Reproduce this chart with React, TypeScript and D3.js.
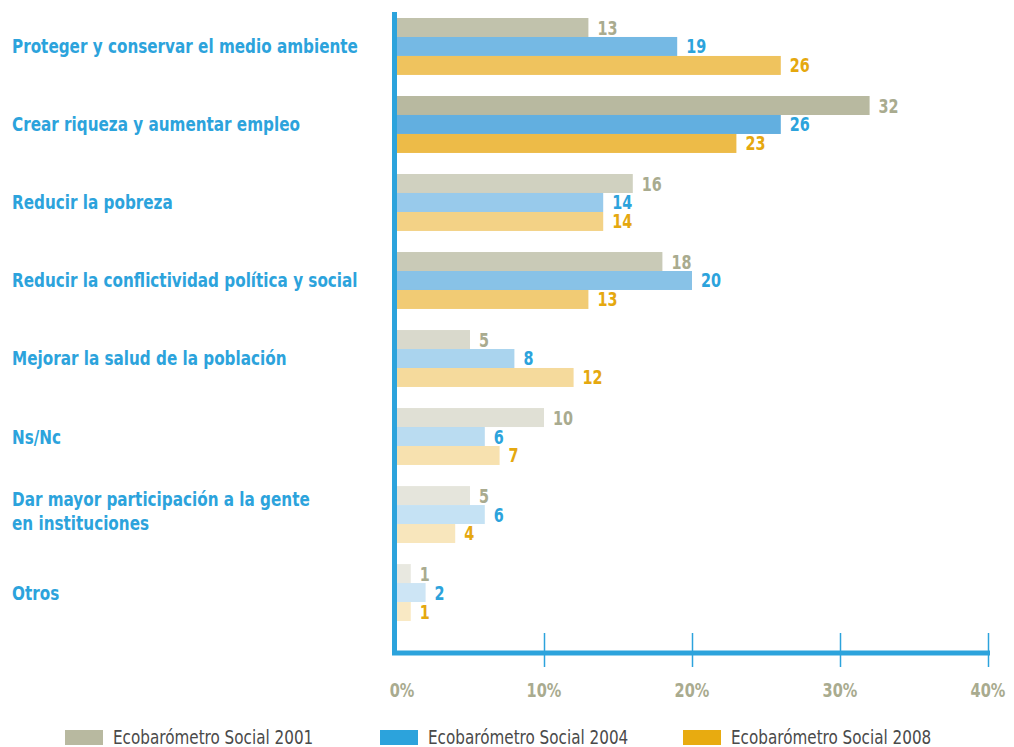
import { useEffect, useRef } from 'react'
import * as d3 from 'd3'

const categories = [
  'Proteger y conservar el medio ambiente',
  'Crear riqueza y aumentar empleo',
  'Reducir la pobreza',
  'Reducir la conflictividad política y social',
  'Mejorar la salud de la población',
  'Ns/Nc',
  'Dar mayor participación a la gente\nen instituciones',
  'Otros',
]
const seriesNames = ['Ecobarómetro Social 2001', 'Ecobarómetro Social 2004', 'Ecobarómetro Social 2008']
const values2001 = [13, 32, 16, 18, 5, 10, 5, 1]
const values2004 = [19, 26, 14, 20, 8, 6, 6, 2]
const values2008 = [26, 23, 14, 13, 12, 7, 4, 1]
const xTicks = [0, 10, 20, 30, 40]

const WIDTH = 1014
const HEIGHT = 747
const BAR_COLORS = ['#b8b9a0', '#62afe0', '#edbb48']
const TEXT_COLORS = ['#a9ab8f', '#2ca3dc', '#e5a80f']
const LEGEND_COLORS = ['#b8b9a0', '#2ca3dc', '#e8ab10']
// intensidad de cada grupo (como en el original)
const GROUP_OPACITY = [0.88, 1, 0.66, 0.76, 0.54, 0.44, 0.37, 0.32]
const BLUE = '#2ca3dc'
const FONT = '"Liberation Sans Narrow", "DejaVu Sans Condensed", "Roboto Condensed", sans-serif'

// estrecha el texto horizontalmente (la fuente original es condensada)
function squeeze(sel: d3.Selection<any, any, any, any>, k: number) {
  sel.each(function () {
    const node = this as SVGTextContentElement
    const len = node.getComputedTextLength()
    if (len > 0) {
      d3.select(node)
        .attr('textLength', len * k)
        .attr('lengthAdjust', 'spacingAndGlyphs')
    }
  })
}

export default function App() {
  const svgRef = useRef<SVGSVGElement>(null)

  useEffect(() => {
    const svg = svgRef.current
    if (!svg) return
    document.body.style.margin = '0'

    const root = d3.select(svg)
    root.selectAll('*').remove()

    const series = [values2001, values2004, values2008]

    const x = d3.scaleLinear().domain([0, 40]).range([396, 988])
    const y = d3.scaleBand<string>()
      .domain(categories)
      .range([18, 621])
      .paddingInner(0.27)
      .paddingOuter(0)
    const ySub = d3.scaleBand<number>()
      .domain([0, 1, 2])
      .range([0, y.bandwidth()])

    const groups = root.append('g')
      .selectAll('g')
      .data(categories)
      .join('g')
      .attr('transform', d => `translate(0,${y(d)})`)

    // barras
    groups.each(function (cat, ci) {
      const g = d3.select(this)
      series.forEach((vals, si) => {
        const v = vals[ci]
        g.append('rect')
          .attr('x', x(0))
          .attr('y', ySub(si) ?? 0)
          .attr('width', x(v) - x(0))
          .attr('height', ySub.bandwidth())
          .attr('fill', BAR_COLORS[si])
          .attr('fill-opacity', GROUP_OPACITY[ci])
        const lbl = g.append('text')
          .attr('x', x(v) + 9)
          .attr('y', (ySub(si) ?? 0) + ySub.bandwidth() / 2 + 7)
          .attr('fill', TEXT_COLORS[si])
          .style('font-family', FONT)
          .style('font-weight', 'bold')
          .style('font-size', '20px')
          .text(v)
        squeeze(lbl, 0.8)
      })

      // etiqueta de categoría
      const lines = cat.split('\n')
      const base = y.bandwidth() / 2 + 7 - (lines.length - 1) * 16
      const t = g.append('text')
        .attr('x', 12)
        .attr('fill', BLUE)
        .style('font-family', FONT)
        .style('font-weight', 'bold')
        .style('font-size', '19px')
      lines.forEach((line, li) => {
        const ts = t.append('tspan').attr('x', 12).attr('y', base + li * 24).text(line)
        squeeze(ts, 0.89)
      })
    })

    // eje X
    const axisY = 653
    const ax = root.append('g')
    ax.append('g')
      .attr('transform', `translate(0,${axisY})`)
      .call(d3.axisBottom(x).tickValues(xTicks.slice(1)).tickSize(14).tickFormat(() => ''))
      .call(sel => sel.select('.domain').remove())
      .call(sel => sel.selectAll('line').attr('stroke', BLUE).attr('stroke-width', 1.5).attr('y1', -20))

    ax.append('line')
      .attr('x1', 392).attr('x2', 990)
      .attr('y1', axisY).attr('y2', axisY)
      .attr('stroke', BLUE).attr('stroke-width', 5)

    const tickLabels = ax.selectAll('text.tick-label')
      .data(xTicks)
      .join('text')
      .attr('class', 'tick-label')
      .attr('x', d => x(d) + (d === 0 ? 6 : 0))
      .attr('y', 697)
      .attr('text-anchor', 'middle')
      .attr('fill', '#a9ab8f')
      .style('font-family', FONT)
      .style('font-weight', 'bold')
      .style('font-size', '19px')
      .text(d => `${d}%`)
    squeeze(tickLabels, 0.85)

    // eje Y
    root.append('line')
      .attr('x1', 394.5).attr('x2', 394.5)
      .attr('y1', 12).attr('y2', 655)
      .attr('stroke', BLUE).attr('stroke-width', 5)

    // leyenda
    const legendX = [65, 380, 683]
    const legend = root.append('g')
      .selectAll('g')
      .data(seriesNames)
      .join('g')
      .attr('transform', (_, i) => `translate(${legendX[i]},730)`)
    legend.append('rect')
      .attr('width', 38)
      .attr('height', 15)
      .attr('fill', (_, i) => LEGEND_COLORS[i])
    const legendText = legend.append('text')
      .attr('x', 48)
      .attr('y', 14)
      .attr('fill', '#4a4a4a')
      .style('font-family', FONT)
      .style('font-size', '19px')
      .text(d => d)
    squeeze(legendText, 0.89)
  }, [])

  return <svg ref={svgRef} width={WIDTH} height={HEIGHT} style={{ display: 'block' }} />
}
